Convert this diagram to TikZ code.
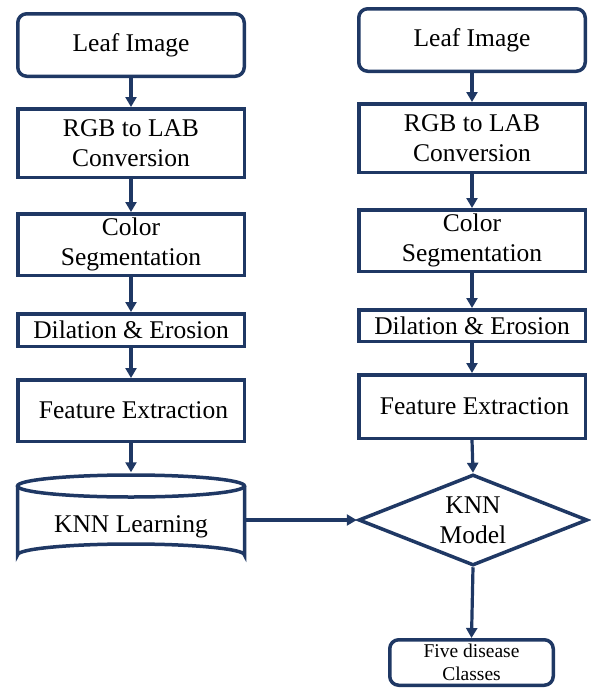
\documentclass[tikz,border=0pt]{standalone}
\usepackage{fontspec}
\setmainfont{LiberationSerif}[Extension=.ttf, UprightFont=*-Regular, BoldFont=*-Bold, ItalicFont=*-Italic, BoldItalicFont=*-BoldItalic]
\usetikzlibrary{arrows.meta,shapes.geometric}
\definecolor{navy}{RGB}{31,56,100}
\tikzset{
  every node/.style={text=black},
  flow/.style={draw=navy, line width=3.5pt, fill=white, inner sep=0pt, align=center,
    font=\fontsize{25.5}{30}\selectfont},
  stepbox/.style={flow, rectangle, minimum width=226.5pt},
  roundbox/.style={stepbox, rounded corners=9pt},
  link/.style={draw=navy, line width=3.2pt, -{Triangle[length=10pt,width=11pt]}},
}
\begin{document}
\begin{tikzpicture}[x=1pt, y=-1pt]
  \useasboundingbox (0,0) rectangle (590,689);

  % ---- training pipeline (left) ----
  \node[roundbox, minimum height=62.5pt] (l1) at (131,45) {Leaf Image};
  \node[stepbox, minimum height=68.5pt] (l2) at (131,143) {RGB to LAB\\Conversion};
  \node[stepbox, minimum height=61.5pt] (l3) at (131,244.5) {Color\\Segmentation};
  \node[stepbox, minimum height=32.5pt] (l4) at (131,330) {Dilation \& Erosion};
  \node[stepbox, minimum height=61.5pt] (l5) at (131,410.5) {\hspace{5pt}Feature Extraction};

  % KNN learning store, drawn as a cylinder
  \fill[white] (17.5,486) -- (17.5,555) arc[start angle=180, end angle=360, x radius=113.5, y radius=11]
    -- (244.5,486) arc[start angle=0, end angle=180, x radius=113.5, y radius=11] -- cycle;
  \draw[navy, line width=3.5pt] (131,486) ellipse[x radius=113.5, y radius=11];
  \draw[navy, line width=3.5pt] (17.5,486) -- (17.5,555)
    arc[start angle=180, end angle=360, x radius=113.5, y radius=11] -- (244.5,486);
  \node[inner sep=0pt, outer sep=1.75pt, minimum width=227pt, minimum height=92pt] (learn) at (131,520) {};
  \node[font=\fontsize{25.5}{30}\selectfont, inner sep=0pt] (learntxt) at (131,527) {KNN Learning};

  % ---- testing pipeline (right) ----
  \node[roundbox, minimum height=62.5pt] (r1) at (472,40) {Leaf Image};
  \node[stepbox, minimum height=68.5pt] (r2) at (472,138) {RGB to LAB\\Conversion};
  \node[stepbox, minimum height=61.5pt] (r3) at (472,240.5) {Color\\Segmentation};
  \node[stepbox, minimum height=31.5pt] (r4) at (472,325.5) {Dilation \& Erosion};
  \node[stepbox, minimum height=63.5pt] (r5) at (472,406.5) {\hspace{5pt}Feature Extraction};
  \node[flow, diamond, aspect=2.5, minimum width=229pt, minimum height=91pt] (knn) at (473,520)
    {KNN\\Model};
  \node[flow, rectangle, rounded corners=9pt, minimum width=163.5pt, minimum height=45.5pt,
    font=\fontsize{19.5}{23}\selectfont] (out) at (471.5,662.5) {Five disease\\Classes};

  % ---- connectors ----
  \draw[link] (l1) -- (l2);
  \draw[link] (l2) -- (l3);
  \draw[link] (l3) -- (l4);
  \draw[link] (l4) -- (l5);
  \draw[link] (l5) -- (learn);
  \draw[link] (r1) -- (r2);
  \draw[link] (r2) -- (r3);
  \draw[link] (r3) -- (r4);
  \draw[link] (r4) -- (r5);
  \draw[link] (r5.south) -- (knn.north);
  \draw[link] (learn.east) -- (knn.west);
  \draw[link] (knn.south) -- (out.north);
\end{tikzpicture}
\end{document}
